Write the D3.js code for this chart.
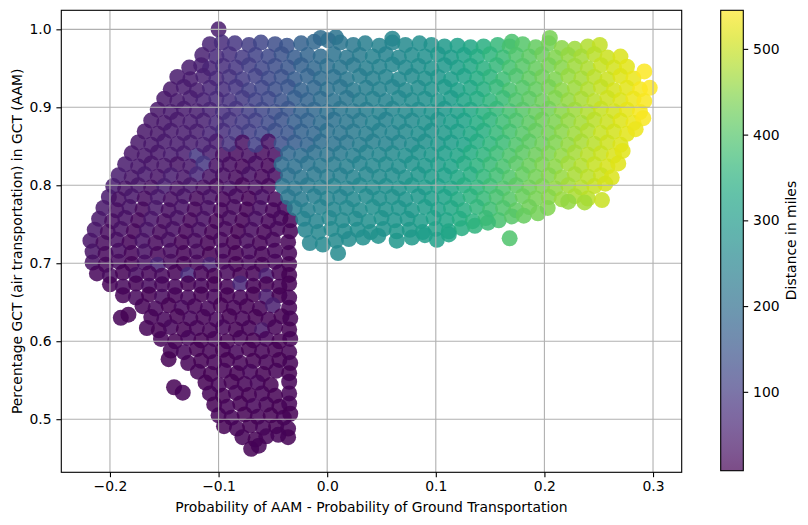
<!DOCTYPE html>
<html>
<head>
<meta charset="utf-8">
<script src="https://cdn.jsdelivr.net/npm/d3@7"></script>
<style>
body { margin: 0; background: #fff; }
svg { font-family: "DejaVu Sans", sans-serif; }
</style>
</head>
<body>
<svg id="chart" width="808" height="525"></svg>
<script>
// [prob. difference AAM - ground, share GCT air, distance in miles]
// left purple wedge + short-distance column
const purpleCluster = [
  [-0.180,0.841,38],[-0.168,0.838,41],[-0.156,0.842,43],[-0.144,0.839,46],[-0.132,0.841,49],[-0.120,0.838,95],[-0.108,0.842,52],[-0.096,0.839,28],[-0.084,0.841,24],[-0.072,0.838,30],[-0.060,0.842,22],[-0.048,0.839,27],
  [-0.186,0.827,45],[-0.174,0.824,42],[-0.162,0.828,38],[-0.150,0.825,40],[-0.138,0.827,35],[-0.126,0.824,42],[-0.114,0.828,92],[-0.102,0.825,33],[-0.090,0.827,25],[-0.078,0.824,20],[-0.066,0.828,28],[-0.054,0.825,18],
  [-0.192,0.813,46],[-0.180,0.810,40],[-0.168,0.814,44],[-0.156,0.811,36],[-0.144,0.813,48],[-0.132,0.810,38],[-0.120,0.814,70],[-0.108,0.811,35],[-0.096,0.813,27],[-0.084,0.810,22],[-0.072,0.814,30],[-0.060,0.811,19],[-0.048,0.813,25],
  [-0.197,0.799,47],[-0.186,0.796,35],[-0.174,0.800,41],[-0.162,0.797,30],[-0.150,0.799,52],[-0.138,0.796,33],[-0.126,0.800,40],[-0.114,0.797,28],[-0.102,0.799,22],[-0.090,0.796,32],[-0.078,0.800,18],[-0.066,0.797,26],[-0.054,0.799,20],
  [-0.201,0.785,45],[-0.192,0.782,30],[-0.180,0.786,38],[-0.168,0.783,25],[-0.156,0.785,42],[-0.144,0.782,28],[-0.132,0.786,35],[-0.120,0.783,22],[-0.108,0.785,30],[-0.096,0.782,16],[-0.084,0.786,24],[-0.072,0.783,14],[-0.060,0.785,27],[-0.048,0.782,18],
  [-0.206,0.771,42],[-0.194,0.768,28],[-0.182,0.772,35],[-0.170,0.769,22],[-0.158,0.771,40],[-0.146,0.768,26],[-0.134,0.772,33],[-0.122,0.769,20],[-0.110,0.771,28],[-0.098,0.768,15],[-0.086,0.772,22],[-0.074,0.769,12],[-0.062,0.771,25],[-0.050,0.768,16],[-0.039,0.771,20],
  [-0.210,0.757,40],[-0.198,0.754,26],[-0.186,0.758,32],[-0.174,0.755,20],[-0.162,0.757,36],[-0.150,0.754,24],[-0.138,0.758,30],[-0.126,0.755,18],[-0.114,0.757,27],[-0.102,0.754,14],[-0.090,0.758,22],[-0.078,0.755,12],[-0.066,0.757,25],[-0.054,0.754,15],[-0.043,0.758,20],[-0.034,0.755,13],
  [-0.214,0.743,38],[-0.202,0.740,24],[-0.190,0.744,30],[-0.178,0.741,18],[-0.166,0.743,34],[-0.154,0.740,22],[-0.142,0.744,28],[-0.130,0.741,16],[-0.118,0.743,25],[-0.106,0.740,12],[-0.094,0.744,20],[-0.082,0.741,10],[-0.070,0.743,23],[-0.058,0.740,14],[-0.046,0.744,19],[-0.034,0.741,11],
  [-0.218,0.729,36],[-0.206,0.726,22],[-0.194,0.730,28],[-0.182,0.727,16],[-0.170,0.729,32],[-0.158,0.726,20],[-0.146,0.730,26],[-0.134,0.727,14],[-0.122,0.729,24],[-0.110,0.726,11],[-0.098,0.730,18],[-0.086,0.727,10],[-0.074,0.729,21],[-0.062,0.726,13],[-0.050,0.730,17],[-0.036,0.727,12],
  [-0.216,0.715,34],[-0.204,0.712,20],[-0.192,0.716,26],[-0.180,0.713,15],[-0.168,0.715,30],[-0.156,0.712,18],[-0.144,0.716,24],[-0.132,0.713,13],[-0.120,0.715,22],[-0.108,0.712,10],[-0.096,0.716,17],[-0.084,0.713,9],[-0.072,0.715,20],[-0.060,0.712,12],[-0.048,0.716,16],[-0.035,0.713,11],
  [-0.216,0.701,30],[-0.204,0.698,18],[-0.192,0.702,24],[-0.180,0.699,13],[-0.168,0.701,28],[-0.156,0.698,60],[-0.144,0.702,22],[-0.132,0.699,12],[-0.120,0.701,20],[-0.108,0.698,55],[-0.096,0.702,15],[-0.084,0.699,9],[-0.072,0.701,18],[-0.060,0.698,11],[-0.048,0.702,15],[-0.035,0.699,10],
  [-0.212,0.687,15],[-0.200,0.684,22],[-0.188,0.688,12],[-0.176,0.685,26],[-0.164,0.687,16],[-0.152,0.684,20],[-0.140,0.688,11],[-0.128,0.685,75],[-0.116,0.687,14],[-0.104,0.684,9],[-0.092,0.688,17],[-0.080,0.685,10],[-0.068,0.687,14],[-0.056,0.684,48],[-0.044,0.688,12],[-0.035,0.685,9],
  [-0.200,0.673,14],[-0.188,0.670,20],[-0.176,0.674,11],[-0.164,0.671,24],[-0.152,0.673,15],[-0.140,0.670,18],[-0.128,0.674,10],[-0.116,0.671,16],[-0.104,0.673,8],[-0.092,0.670,14],[-0.080,0.674,65],[-0.068,0.671,12],[-0.056,0.673,9],[-0.044,0.670,13],[-0.035,0.674,8],
  [-0.188,0.659,13],[-0.176,0.656,19],[-0.164,0.660,10],[-0.152,0.657,22],[-0.140,0.659,14],[-0.128,0.656,17],[-0.116,0.660,9],[-0.104,0.657,15],[-0.092,0.659,8],[-0.080,0.656,13],[-0.068,0.660,10],[-0.056,0.657,45],[-0.044,0.659,9],[-0.035,0.656,12],
  [-0.170,0.645,12],[-0.158,0.642,18],[-0.146,0.646,10],[-0.134,0.643,20],[-0.122,0.645,13],[-0.110,0.642,16],[-0.098,0.646,9],[-0.086,0.643,14],[-0.074,0.645,8],[-0.062,0.642,12],[-0.050,0.646,52],[-0.035,0.643,11],
  [-0.190,0.630,11],[-0.183,0.634,9],[-0.162,0.631,11],[-0.150,0.628,16],[-0.138,0.632,9],[-0.126,0.629,18],[-0.114,0.631,12],[-0.102,0.628,15],[-0.090,0.632,8],[-0.078,0.629,13],[-0.066,0.631,9],[-0.054,0.628,11],[-0.042,0.632,8],[-0.034,0.629,12],
  [-0.166,0.617,12],[-0.155,0.614,10],[-0.144,0.618,17],[-0.132,0.615,9],[-0.120,0.617,14],[-0.108,0.614,11],[-0.096,0.618,16],[-0.084,0.615,8],[-0.072,0.617,12],[-0.060,0.614,40],[-0.048,0.618,13],[-0.035,0.615,10],
  [-0.153,0.603,13],[-0.140,0.600,9],[-0.128,0.604,16],[-0.116,0.601,10],[-0.104,0.603,14],[-0.092,0.600,8],[-0.080,0.604,12],[-0.068,0.601,9],[-0.056,0.603,15],[-0.044,0.600,10],[-0.034,0.603,12],
  [-0.144,0.588,11],[-0.132,0.586,15],[-0.120,0.590,9],[-0.108,0.587,13],[-0.096,0.589,10],[-0.084,0.586,16],[-0.072,0.590,8],[-0.060,0.587,12],[-0.048,0.589,9],[-0.035,0.586,11],
  [-0.146,0.577,10],[-0.128,0.572,12],[-0.116,0.575,9],[-0.104,0.573,14],[-0.092,0.576,10],[-0.080,0.572,13],[-0.068,0.575,8],[-0.056,0.573,11],[-0.044,0.576,9],[-0.034,0.572,12],
  [-0.119,0.561,11],[-0.107,0.558,9],[-0.095,0.562,13],[-0.083,0.559,10],[-0.071,0.561,15],[-0.059,0.558,8],[-0.047,0.562,12],[-0.035,0.559,10],
  [-0.141,0.541,9],[-0.133,0.534,11],[-0.112,0.547,10],[-0.100,0.544,13],[-0.088,0.548,9],[-0.076,0.545,12],[-0.064,0.547,16],[-0.052,0.544,9],[-0.035,0.548,11],
  [-0.108,0.533,12],[-0.096,0.530,9],[-0.084,0.534,14],[-0.072,0.531,10],[-0.060,0.533,13],[-0.048,0.530,8],[-0.035,0.533,12],
  [-0.104,0.519,10],[-0.092,0.516,13],[-0.080,0.520,9],[-0.068,0.517,15],[-0.056,0.519,11],[-0.044,0.516,9],[-0.035,0.520,13],
  [-0.100,0.505,11],[-0.088,0.502,14],[-0.076,0.506,10],[-0.064,0.503,12],[-0.052,0.505,9],[-0.040,0.502,13],[-0.034,0.507,10],
  [-0.095,0.491,10],[-0.083,0.488,12],[-0.071,0.492,9],[-0.059,0.489,14],[-0.047,0.491,10],[-0.036,0.488,12],
  [-0.078,0.477,11],[-0.066,0.474,9],[-0.056,0.478,13],[-0.036,0.477,10],[-0.045,0.480,12],[-0.070,0.462,10],[-0.063,0.466,12]
];

// top part of the cloud, full width
const upperCloud = [
  [-0.100,1.000,45],[-0.006,0.989,196],[0.008,0.990,212],[0.060,0.988,254],[0.205,0.989,433],[0.170,0.984,390],
  [-0.108,0.981,60],[-0.097,0.983,72],[-0.085,0.982,90],[-0.072,0.980,104],[-0.061,0.983,118],[-0.048,0.981,133],[-0.037,0.979,148],[-0.024,0.982,170],[-0.012,0.984,186],[0.001,0.986,203],[0.012,0.983,214],[0.024,0.980,224],[0.035,0.982,236],[0.048,0.979,243],[0.060,0.983,252],[0.072,0.980,262],[0.085,0.982,272],[0.096,0.980,282],[0.108,0.978,296],[0.120,0.979,311],[0.132,0.977,326],[0.144,0.978,345],[0.157,0.980,365],[0.168,0.978,386],[0.180,0.981,402],[0.192,0.977,417],[0.204,0.982,431],[0.216,0.976,450],[0.228,0.975,465],[0.240,0.978,481],[0.251,0.980,496],
  [-0.115,0.967,55],[-0.102,0.965,70],[-0.090,0.968,82],[-0.078,0.964,99],[-0.066,0.967,113],[-0.054,0.965,126],[-0.042,0.968,143],[-0.030,0.964,163],[-0.018,0.967,181],[-0.006,0.965,194],[0.006,0.968,211],[0.018,0.964,221],[0.030,0.967,230],[0.042,0.965,241],[0.054,0.968,248],[0.066,0.964,256],[0.078,0.967,267],[0.090,0.965,276],[0.102,0.968,290],[0.114,0.964,301],[0.126,0.967,318],[0.138,0.965,336],[0.150,0.968,357],[0.162,0.964,374],[0.174,0.967,394],[0.186,0.965,409],[0.198,0.968,424],[0.210,0.964,441],[0.222,0.967,457],[0.234,0.965,473],[0.246,0.968,488],[0.258,0.964,502],[0.270,0.965,514],
  [-0.127,0.951,46],[-0.116,0.954,54],[-0.108,0.950,63],[-0.096,0.953,76],[-0.084,0.951,91],[-0.072,0.954,105],[-0.060,0.950,121],[-0.048,0.953,134],[-0.036,0.951,151],[-0.024,0.954,171],[-0.012,0.950,187],[0.000,0.953,204],[0.012,0.951,216],[0.024,0.954,225],[0.036,0.950,237],[0.048,0.952,244],[0.060,0.955,254],[0.072,0.951,261],[0.084,0.953,272],[0.096,0.950,284],[0.108,0.954,294],[0.120,0.951,309],[0.132,0.953,328],[0.144,0.950,347],[0.156,0.954,364],[0.168,0.951,384],[0.180,0.953,404],[0.192,0.950,419],[0.204,0.954,433],[0.216,0.951,448],[0.228,0.953,467],[0.240,0.950,479],[0.252,0.954,498],[0.264,0.951,508],[0.276,0.952,520],
  [-0.138,0.939,44],[-0.126,0.936,47],[-0.114,0.940,56],[-0.102,0.937,67],[-0.090,0.939,84],[-0.078,0.936,101],[-0.066,0.940,111],[-0.054,0.937,129],[-0.042,0.939,141],[-0.030,0.936,164],[-0.018,0.940,179],[-0.006,0.937,196],[0.006,0.939,209],[0.018,0.936,222],[0.030,0.940,232],[0.042,0.937,239],[0.054,0.939,250],[0.066,0.936,258],[0.078,0.940,265],[0.090,0.937,278],[0.102,0.939,288],[0.114,0.936,303],[0.126,0.940,317],[0.138,0.937,338],[0.150,0.939,355],[0.162,0.936,376],[0.174,0.940,392],[0.186,0.937,411],[0.198,0.939,426],[0.210,0.936,439],[0.222,0.940,459],[0.234,0.937,472],[0.246,0.939,490],[0.258,0.936,502],[0.270,0.940,516],[0.282,0.937,527],[0.292,0.946,541],
  [-0.144,0.923,43],[-0.132,0.926,46],[-0.120,0.922,50],[-0.108,0.925,61],[-0.096,0.923,77],[-0.084,0.926,90],[-0.072,0.922,107],[-0.060,0.925,119],[-0.048,0.923,136],[-0.036,0.926,149],[-0.024,0.922,173],[-0.012,0.925,185],[0.000,0.923,206],[0.012,0.926,214],[0.024,0.922,227],[0.036,0.925,235],[0.048,0.923,246],[0.060,0.926,252],[0.072,0.922,263],[0.084,0.925,270],[0.096,0.923,283],[0.108,0.926,296],[0.120,0.922,311],[0.132,0.925,326],[0.144,0.923,345],[0.156,0.926,366],[0.168,0.922,386],[0.180,0.925,402],[0.192,0.923,417],[0.204,0.926,432],[0.216,0.922,451],[0.228,0.925,465],[0.240,0.923,482],[0.252,0.926,496],[0.264,0.922,510],[0.276,0.925,521],[0.288,0.923,536],[0.297,0.925,544],
  [-0.150,0.911,42],[-0.138,0.908,45],[-0.126,0.912,48],[-0.114,0.909,57],[-0.102,0.911,69],[-0.090,0.908,82],[-0.078,0.912,98],[-0.066,0.909,114],[-0.054,0.911,127],[-0.042,0.908,144],[-0.030,0.912,166],[-0.018,0.909,178],[-0.006,0.911,195],[0.006,0.908,211],[0.018,0.912,219],[0.030,0.909,232],[0.042,0.911,241],[0.054,0.908,248],[0.066,0.912,258],[0.078,0.909,267],[0.090,0.911,276],[0.102,0.908,291],[0.114,0.912,301],[0.126,0.909,319],[0.138,0.911,336],[0.150,0.908,357],[0.162,0.912,374],[0.174,0.909,394],[0.186,0.911,409],[0.198,0.908,424],[0.210,0.912,441],[0.222,0.909,457],[0.234,0.911,474],[0.246,0.908,488],[0.258,0.912,504],[0.270,0.909,515],[0.282,0.911,529],[0.292,0.908,540],
  [-0.156,0.897,41],[-0.144,0.894,44],[-0.132,0.898,47],[-0.120,0.895,51],[-0.108,0.897,60],[-0.096,0.894,78],[-0.084,0.898,89],[-0.072,0.895,106],[-0.060,0.897,121],[-0.048,0.894,134],[-0.036,0.898,152],[-0.024,0.895,172],[-0.012,0.897,188],[0.000,0.894,204],[0.012,0.898,216],[0.024,0.895,226],[0.036,0.897,236],[0.048,0.894,245],[0.060,0.898,254],[0.072,0.895,262],[0.084,0.897,271],[0.096,0.894,284],[0.108,0.898,294],[0.120,0.895,310],[0.132,0.897,328],[0.144,0.894,346],[0.156,0.898,365],[0.168,0.895,384],[0.180,0.897,404],[0.192,0.894,418],[0.204,0.898,431],[0.216,0.895,450],[0.228,0.897,466],[0.240,0.894,481],[0.252,0.898,497],[0.264,0.895,508],[0.276,0.897,522],[0.288,0.894,535],
  [-0.162,0.883,40],[-0.150,0.880,43],[-0.138,0.884,45],[-0.126,0.881,49],[-0.114,0.883,55],[-0.102,0.880,70],[-0.090,0.884,84],[-0.078,0.881,100],[-0.066,0.883,112],[-0.054,0.880,129],[-0.042,0.884,143],[-0.030,0.881,167],[-0.018,0.883,179],[-0.006,0.880,196],[0.006,0.884,209],[0.018,0.881,221],[0.030,0.883,230],[0.042,0.880,242],[0.054,0.884,248],[0.066,0.881,258],[0.078,0.883,266],[0.090,0.880,278],[0.102,0.884,289],[0.114,0.881,303],[0.126,0.883,318],[0.138,0.880,337],[0.150,0.884,356],[0.162,0.881,376],[0.174,0.883,393],[0.186,0.880,410],[0.198,0.884,426],[0.210,0.881,440],[0.222,0.883,458],[0.234,0.880,473],[0.246,0.884,489],[0.258,0.881,503],[0.270,0.883,516],[0.282,0.880,528],[0.291,0.886,539],
  [-0.168,0.869,39],[-0.156,0.866,41],[-0.144,0.870,44],[-0.132,0.867,46],[-0.120,0.869,52],[-0.108,0.866,62],[-0.096,0.870,76],[-0.084,0.867,92],[-0.072,0.869,105],[-0.060,0.866,120],[-0.048,0.870,136],[-0.036,0.867,150],[-0.024,0.869,174],[-0.012,0.866,186],[0.000,0.870,206],[0.012,0.867,215],[0.024,0.869,227],[0.036,0.866,236],[0.048,0.870,244],[0.060,0.867,253],[0.072,0.869,263],[0.084,0.866,272],[0.096,0.870,282],[0.108,0.867,296],[0.120,0.869,311],[0.132,0.866,327],[0.144,0.870,345],[0.156,0.867,366],[0.168,0.869,385],[0.180,0.866,403],[0.192,0.870,419],[0.204,0.867,432],[0.216,0.869,449],[0.228,0.866,466],[0.240,0.870,480],[0.252,0.867,497],[0.264,0.869,509],[0.276,0.866,521],[0.284,0.872,530],
  [-0.174,0.855,40],[-0.162,0.852,42],[-0.150,0.856,44],[-0.138,0.853,46],[-0.126,0.855,50],[-0.114,0.852,56],[-0.102,0.856,48],[-0.090,0.853,85],[-0.078,0.855,30],[-0.066,0.852,110],[-0.054,0.856,35],[-0.042,0.853,140],[-0.030,0.855,165],[-0.018,0.852,180],[-0.006,0.856,197],[0.006,0.853,210],[0.018,0.855,220],[0.030,0.852,231],[0.042,0.856,240],[0.054,0.853,249],[0.066,0.855,257],[0.078,0.852,266],[0.090,0.856,277],[0.102,0.853,290],[0.114,0.855,302],[0.126,0.852,318],[0.138,0.856,337],[0.150,0.853,357],[0.162,0.855,375],[0.174,0.852,394],[0.186,0.856,410],[0.198,0.853,425],[0.210,0.855,441],[0.222,0.852,458],[0.234,0.856,474],[0.246,0.853,488],[0.258,0.855,504],[0.270,0.852,515]
];

// lower part of the main band (teal to yellow)
const lowerBand = [
  [-0.036,0.841,185],[-0.024,0.838,195],[-0.012,0.842,205],[0.000,0.839,215],[0.012,0.841,225],[0.024,0.838,235],[0.036,0.842,245],[0.048,0.839,255],[0.060,0.841,262],[0.072,0.838,272],[0.084,0.842,282],[0.096,0.839,293],[0.108,0.841,305],[0.120,0.838,320],[0.132,0.842,336],[0.144,0.839,355],[0.156,0.841,374],[0.168,0.838,392],[0.180,0.842,410],[0.192,0.839,425],[0.204,0.841,440],[0.216,0.838,456],[0.228,0.842,472],[0.240,0.839,487],[0.252,0.841,500],[0.264,0.838,512],[0.272,0.844,520],
  [-0.042,0.827,195],[-0.030,0.824,205],[-0.018,0.828,212],[-0.006,0.825,222],[0.006,0.827,230],[0.018,0.824,240],[0.030,0.828,248],[0.042,0.825,256],[0.054,0.827,264],[0.066,0.824,272],[0.078,0.828,282],[0.090,0.825,292],[0.102,0.827,303],[0.114,0.824,317],[0.126,0.828,333],[0.138,0.825,350],[0.150,0.827,370],[0.162,0.824,388],[0.174,0.828,405],[0.186,0.825,422],[0.198,0.827,437],[0.210,0.824,452],[0.222,0.828,468],[0.234,0.825,484],[0.246,0.827,498],[0.258,0.824,510],[0.268,0.828,518],
  [-0.036,0.813,205],[-0.024,0.810,214],[-0.012,0.814,222],[0.000,0.811,230],[0.012,0.813,238],[0.024,0.810,247],[0.036,0.814,255],[0.048,0.811,262],[0.060,0.813,270],[0.072,0.810,278],[0.084,0.814,288],[0.096,0.811,300],[0.108,0.813,312],[0.120,0.810,327],[0.132,0.814,343],[0.144,0.811,362],[0.156,0.813,381],[0.168,0.810,398],[0.180,0.814,415],[0.192,0.811,430],[0.204,0.813,445],[0.216,0.810,460],[0.228,0.814,475],[0.240,0.811,490],[0.252,0.813,503],[0.262,0.810,514],
  [-0.041,0.799,212],[-0.030,0.796,220],[-0.018,0.800,228],[-0.006,0.797,236],[0.006,0.799,243],[0.018,0.796,251],[0.030,0.800,258],[0.042,0.797,265],[0.054,0.799,272],[0.066,0.796,280],[0.078,0.800,290],[0.090,0.797,300],[0.102,0.799,311],[0.114,0.796,324],[0.126,0.800,340],[0.138,0.797,357],[0.150,0.799,376],[0.162,0.796,394],[0.174,0.800,410],[0.186,0.797,426],[0.198,0.799,440],[0.210,0.796,455],[0.222,0.800,470],[0.234,0.797,485],[0.246,0.799,498],[0.256,0.802,508],
  [-0.036,0.785,220],[-0.024,0.782,228],[-0.012,0.786,236],[0.000,0.783,244],[0.012,0.785,251],[0.024,0.782,258],[0.036,0.786,265],[0.048,0.783,271],[0.060,0.785,278],[0.072,0.782,286],[0.084,0.786,295],[0.096,0.783,306],[0.108,0.785,318],[0.120,0.782,333],[0.132,0.786,350],[0.144,0.783,368],[0.156,0.785,386],[0.168,0.782,404],[0.180,0.786,420],[0.192,0.783,434],[0.204,0.785,448],[0.216,0.782,462],[0.228,0.786,477],[0.240,0.783,490],[0.253,0.781,500],
  [-0.030,0.771,232],[-0.018,0.768,240],[-0.006,0.772,247],[0.006,0.769,254],[0.018,0.771,261],[0.030,0.768,267],[0.042,0.772,273],[0.054,0.769,279],[0.066,0.771,286],[0.078,0.768,294],[0.090,0.772,303],[0.102,0.769,314],[0.114,0.771,327],[0.126,0.768,343],[0.138,0.772,360],[0.150,0.769,378],[0.162,0.771,396],[0.174,0.768,412],[0.186,0.772,427],[0.203,0.771,441],[0.222,0.779,458],[0.237,0.778,472],
  [-0.022,0.757,245],[-0.010,0.754,250],[0.002,0.758,256],[0.014,0.755,262],[0.026,0.757,268],[0.038,0.754,274],[0.050,0.758,280],[0.062,0.755,286],[0.074,0.757,293],[0.086,0.754,301],[0.098,0.758,311],[0.110,0.755,322],[0.122,0.757,336],[0.134,0.754,352],[0.146,0.758,370],[0.158,0.755,388],[0.170,0.760,404],[0.181,0.761,418],[0.194,0.764,430],
  [-0.020,0.743,250],[-0.008,0.740,256],[0.004,0.744,262],[0.016,0.741,267],[0.028,0.743,272],[0.040,0.740,278],[0.052,0.744,284],[0.064,0.741,290],[0.076,0.743,297],[0.088,0.740,305],[0.100,0.744,315],[0.112,0.741,326],[0.124,0.745,340],[0.136,0.748,356],[0.148,0.752,372],
  [-0.016,0.726,252],[-0.004,0.724,258],[0.008,0.729,263],[0.020,0.731,268],[0.033,0.733,273],[0.047,0.735,280],[0.064,0.729,290],[0.078,0.733,297],[0.090,0.736,305],[0.101,0.730,312],[0.112,0.737,322],[0.010,0.713,262],[0.168,0.732,395]
];

const xTicks = [-0.2, -0.1, 0.0, 0.1, 0.2, 0.3];
const yTicks = [0.5, 0.6, 0.7, 0.8, 0.9, 1.0];
const distTicks = [100, 200, 300, 400, 500];
const xDomain = [-0.2448, 0.3264];
const yDomain = [0.4319, 1.0244];
const distDomain = [8, 545];

var svg = d3.select("#chart"),
    marginLeft = 61.3,
    marginTop = 10.3,
    width = 620.4,
    height = 462,
    fontSize = "13.9px";

var xScale = d3.scaleLinear().domain(xDomain).range([marginLeft, marginLeft + width]);
var yScale = d3.scaleLinear().domain(yDomain).range([marginTop + height, marginTop]);
var colorScale = d3.scaleSequential(d3.interpolateViridis).domain(distDomain);

var defs = svg.append("defs");
defs.append("clipPath").attr("id", "plotClip")
  .append("rect")
  .attr("x", marginLeft).attr("y", marginTop)
  .attr("width", width).attr("height", height);

// points
var points = purpleCluster.concat(upperCloud, lowerBand);
svg.append("g")
  .attr("clip-path", "url(#plotClip)")
  .selectAll("circle")
  .data(points)
  .enter()
  .append("circle")
  .attr("cx", d => xScale(d[0]))
  .attr("cy", d => yScale(d[1]))
  .attr("r", 8)
  .style("fill", d => colorScale(d[2]))
  .style("fill-opacity", 0.85);

// grid sits above the points like in matplotlib
var grid = svg.append("g").style("stroke", "#b0b0b0").style("stroke-width", 1.1);
grid.selectAll(".gx").data(xTicks).enter().append("line")
  .attr("x1", d => xScale(d)).attr("x2", d => xScale(d))
  .attr("y1", marginTop).attr("y2", marginTop + height);
grid.selectAll(".gy").data(yTicks).enter().append("line")
  .attr("x1", marginLeft).attr("x2", marginLeft + width)
  .attr("y1", d => yScale(d)).attr("y2", d => yScale(d));

// axes
var xAxis = svg.append("g")
  .attr("transform", "translate(0," + (marginTop + height) + ")")
  .call(d3.axisBottom(xScale).tickValues(xTicks).tickFormat(d3.format(".1f")).tickSize(4.9).tickPadding(4.2));
var yAxis = svg.append("g")
  .attr("transform", "translate(" + marginLeft + ",0)")
  .call(d3.axisLeft(yScale).tickValues(yTicks).tickFormat(d3.format(".1f")).tickSize(4.9).tickPadding(4.9));

[xAxis, yAxis].forEach(function(ax) {
  ax.select(".domain").remove();
  ax.selectAll("line").style("stroke", "#000").style("stroke-width", 1.1);
  ax.selectAll("text").style("font-size", fontSize).style("font-family", "DejaVu Sans").style("fill", "#000");
});

svg.append("rect")
  .attr("x", marginLeft).attr("y", marginTop)
  .attr("width", width).attr("height", height)
  .style("fill", "none").style("stroke", "#000").style("stroke-width", 1.1);

// axis labels
svg.append("text")
  .attr("x", marginLeft + width / 2)
  .attr("y", 512)
  .attr("text-anchor", "middle")
  .style("font-size", fontSize)
  .text("Probability of AAM - Probability of Ground Transportation");

svg.append("text")
  .attr("text-anchor", "middle")
  .attr("transform", "translate(21.5," + (marginTop + height / 2) + ")rotate(-90)")
  .style("font-size", fontSize)
  .text("Percentage GCT (air transportation) in GCT (AAM)");

// colorbar
var cbX = 720.7, cbW = 22.6, cbTop = 10.3, cbH = 460.4;
var cScale = d3.scaleLinear().domain(distDomain).range([cbTop + cbH, cbTop]);

var grad = defs.append("linearGradient").attr("id", "viridisGrad")
  .attr("x1", "0").attr("y1", "1").attr("x2", "0").attr("y2", "0");
grad.selectAll("stop")
  .data(d3.range(0, 1.0001, 0.02))
  .enter().append("stop")
  .attr("offset", d => d)
  .attr("stop-color", d => d3.interpolateViridis(d));

svg.append("rect")
  .attr("x", cbX).attr("y", cbTop)
  .attr("width", cbW).attr("height", cbH)
  .style("fill", "url(#viridisGrad)")
  .style("fill-opacity", 0.7);
svg.append("rect")
  .attr("x", cbX).attr("y", cbTop)
  .attr("width", cbW).attr("height", cbH)
  .style("fill", "none").style("stroke", "#000").style("stroke-width", 1.1);

var cAxis = svg.append("g")
  .attr("transform", "translate(" + (cbX + cbW) + ",0)")
  .call(d3.axisRight(cScale).tickValues(distTicks).tickSize(4.9).tickPadding(4.9));
cAxis.select(".domain").remove();
cAxis.selectAll("line").style("stroke", "#000").style("stroke-width", 1.1);
cAxis.selectAll("text").style("font-size", fontSize).style("font-family", "DejaVu Sans").style("fill", "#000");

svg.append("text")
  .attr("text-anchor", "middle")
  .attr("transform", "translate(795.5," + (cbTop + cbH / 2) + ")rotate(-90)")
  .style("font-size", fontSize)
  .text("Distance in miles");
</script>
</body>
</html>
